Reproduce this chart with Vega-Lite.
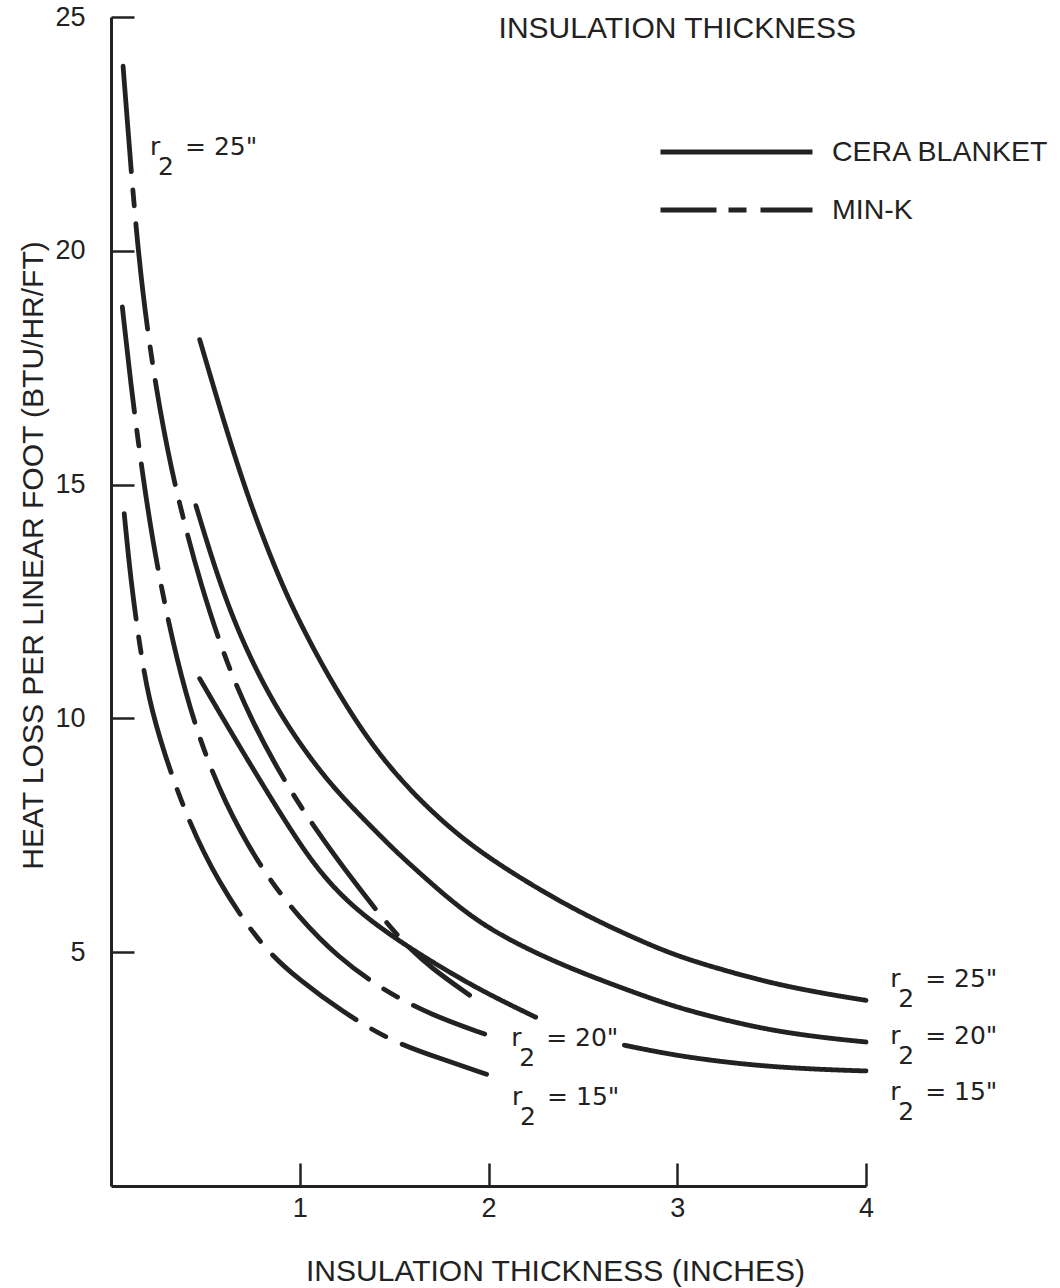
{
  "$schema": "https://vega.github.io/schema/vega-lite/v6.json",
  "width": 755,
  "height": 1169,
  "autosize": "none",
  "padding": {"left": 111, "top": 17, "right": 194, "bottom": 102},
  "background": "white",
  "config": {
    "view": {"stroke": null},
    "font": "Liberation Sans",
    "axis": {"labelFont": "Liberation Sans", "titleFont": "Liberation Sans"},
    "legend": {"labelFont": "Liberation Sans"}
  },
  "datasets": {
    "curves": [
      {"curve": "C25", "material": "CERA BLANKET", "x": 0.47, "y": 18.1},
      {"curve": "C25", "material": "CERA BLANKET", "x": 0.55, "y": 17.0},
      {"curve": "C25", "material": "CERA BLANKET", "x": 0.64, "y": 15.8},
      {"curve": "C25", "material": "CERA BLANKET", "x": 0.75, "y": 14.45},
      {"curve": "C25", "material": "CERA BLANKET", "x": 0.89, "y": 13.0},
      {"curve": "C25", "material": "CERA BLANKET", "x": 1.0, "y": 12.05},
      {"curve": "C25", "material": "CERA BLANKET", "x": 1.15, "y": 10.9},
      {"curve": "C25", "material": "CERA BLANKET", "x": 1.35, "y": 9.6},
      {"curve": "C25", "material": "CERA BLANKET", "x": 1.53, "y": 8.7},
      {"curve": "C25", "material": "CERA BLANKET", "x": 1.7, "y": 8.0},
      {"curve": "C25", "material": "CERA BLANKET", "x": 1.9, "y": 7.3},
      {"curve": "C25", "material": "CERA BLANKET", "x": 2.16, "y": 6.6},
      {"curve": "C25", "material": "CERA BLANKET", "x": 2.48, "y": 5.85},
      {"curve": "C25", "material": "CERA BLANKET", "x": 2.8, "y": 5.25},
      {"curve": "C25", "material": "CERA BLANKET", "x": 3.01, "y": 4.9},
      {"curve": "C25", "material": "CERA BLANKET", "x": 3.3, "y": 4.55},
      {"curve": "C25", "material": "CERA BLANKET", "x": 3.54, "y": 4.3},
      {"curve": "C25", "material": "CERA BLANKET", "x": 3.8, "y": 4.1},
      {"curve": "C25", "material": "CERA BLANKET", "x": 4.0, "y": 3.97},
      {"curve": "C20", "material": "CERA BLANKET", "x": 0.45, "y": 14.55},
      {"curve": "C20", "material": "CERA BLANKET", "x": 0.57, "y": 12.95},
      {"curve": "C20", "material": "CERA BLANKET", "x": 0.7, "y": 11.6},
      {"curve": "C20", "material": "CERA BLANKET", "x": 0.85, "y": 10.4},
      {"curve": "C20", "material": "CERA BLANKET", "x": 1.0, "y": 9.45},
      {"curve": "C20", "material": "CERA BLANKET", "x": 1.17, "y": 8.55},
      {"curve": "C20", "material": "CERA BLANKET", "x": 1.35, "y": 7.8},
      {"curve": "C20", "material": "CERA BLANKET", "x": 1.51, "y": 7.15},
      {"curve": "C20", "material": "CERA BLANKET", "x": 1.62, "y": 6.75},
      {"curve": "C20", "material": "CERA BLANKET", "x": 1.8, "y": 6.1},
      {"curve": "C20", "material": "CERA BLANKET", "x": 2.0, "y": 5.5},
      {"curve": "C20", "material": "CERA BLANKET", "x": 2.25, "y": 4.98},
      {"curve": "C20", "material": "CERA BLANKET", "x": 2.48, "y": 4.58},
      {"curve": "C20", "material": "CERA BLANKET", "x": 2.75, "y": 4.17},
      {"curve": "C20", "material": "CERA BLANKET", "x": 3.01, "y": 3.8},
      {"curve": "C20", "material": "CERA BLANKET", "x": 3.3, "y": 3.5},
      {"curve": "C20", "material": "CERA BLANKET", "x": 3.54, "y": 3.3},
      {"curve": "C20", "material": "CERA BLANKET", "x": 3.8, "y": 3.16},
      {"curve": "C20", "material": "CERA BLANKET", "x": 4.0, "y": 3.08},
      {"curve": "C15a", "material": "CERA BLANKET", "x": 0.47, "y": 10.85},
      {"curve": "C15a", "material": "CERA BLANKET", "x": 0.6, "y": 9.95},
      {"curve": "C15a", "material": "CERA BLANKET", "x": 0.785, "y": 8.7},
      {"curve": "C15a", "material": "CERA BLANKET", "x": 1.0, "y": 7.3},
      {"curve": "C15a", "material": "CERA BLANKET", "x": 1.14, "y": 6.55},
      {"curve": "C15a", "material": "CERA BLANKET", "x": 1.3, "y": 5.9},
      {"curve": "C15a", "material": "CERA BLANKET", "x": 1.53, "y": 5.22},
      {"curve": "C15a", "material": "CERA BLANKET", "x": 1.8, "y": 4.55},
      {"curve": "C15a", "material": "CERA BLANKET", "x": 2.0, "y": 4.1},
      {"curve": "C15a", "material": "CERA BLANKET", "x": 2.25, "y": 3.61},
      {"curve": "C15b", "material": "CERA BLANKET", "x": 2.72, "y": 3.01},
      {"curve": "C15b", "material": "CERA BLANKET", "x": 3.0, "y": 2.78},
      {"curve": "C15b", "material": "CERA BLANKET", "x": 3.37, "y": 2.59},
      {"curve": "C15b", "material": "CERA BLANKET", "x": 3.7, "y": 2.5},
      {"curve": "C15b", "material": "CERA BLANKET", "x": 4.0, "y": 2.46},
      {"curve": "M25", "material": "MIN-K", "x": 0.064, "y": 23.95},
      {"curve": "M25", "material": "MIN-K", "x": 0.11, "y": 21.5},
      {"curve": "M25", "material": "MIN-K", "x": 0.165, "y": 19.1},
      {"curve": "M25", "material": "MIN-K", "x": 0.24, "y": 17.0},
      {"curve": "M25", "material": "MIN-K", "x": 0.32, "y": 15.3},
      {"curve": "M25", "material": "MIN-K", "x": 0.4, "y": 14.0},
      {"curve": "M25", "material": "MIN-K", "x": 0.47, "y": 12.95},
      {"curve": "M25", "material": "MIN-K", "x": 0.6, "y": 11.3},
      {"curve": "M25", "material": "MIN-K", "x": 0.75, "y": 9.9},
      {"curve": "M25", "material": "MIN-K", "x": 0.92, "y": 8.65},
      {"curve": "M25", "material": "MIN-K", "x": 1.07, "y": 7.71},
      {"curve": "M25", "material": "MIN-K", "x": 1.28, "y": 6.54},
      {"curve": "M25", "material": "MIN-K", "x": 1.53, "y": 5.26},
      {"curve": "M25", "material": "MIN-K", "x": 1.7, "y": 4.65},
      {"curve": "M25", "material": "MIN-K", "x": 1.9, "y": 4.08},
      {"curve": "M20", "material": "MIN-K", "x": 0.06, "y": 18.8},
      {"curve": "M20", "material": "MIN-K", "x": 0.1, "y": 17.3},
      {"curve": "M20", "material": "MIN-K", "x": 0.17, "y": 15.1},
      {"curve": "M20", "material": "MIN-K", "x": 0.245, "y": 13.2},
      {"curve": "M20", "material": "MIN-K", "x": 0.35, "y": 11.2},
      {"curve": "M20", "material": "MIN-K", "x": 0.46, "y": 9.64},
      {"curve": "M20", "material": "MIN-K", "x": 0.6, "y": 8.2},
      {"curve": "M20", "material": "MIN-K", "x": 0.8, "y": 6.75},
      {"curve": "M20", "material": "MIN-K", "x": 1.0, "y": 5.72},
      {"curve": "M20", "material": "MIN-K", "x": 1.2, "y": 4.9},
      {"curve": "M20", "material": "MIN-K", "x": 1.44, "y": 4.19},
      {"curve": "M20", "material": "MIN-K", "x": 1.7, "y": 3.65},
      {"curve": "M20", "material": "MIN-K", "x": 1.98, "y": 3.25},
      {"curve": "M15", "material": "MIN-K", "x": 0.07, "y": 14.38},
      {"curve": "M15", "material": "MIN-K", "x": 0.105, "y": 12.95},
      {"curve": "M15", "material": "MIN-K", "x": 0.15, "y": 11.6},
      {"curve": "M15", "material": "MIN-K", "x": 0.2, "y": 10.4},
      {"curve": "M15", "material": "MIN-K", "x": 0.28, "y": 9.27},
      {"curve": "M15", "material": "MIN-K", "x": 0.4, "y": 7.9},
      {"curve": "M15", "material": "MIN-K", "x": 0.56, "y": 6.54},
      {"curve": "M15", "material": "MIN-K", "x": 0.8, "y": 5.1},
      {"curve": "M15", "material": "MIN-K", "x": 1.0, "y": 4.4},
      {"curve": "M15", "material": "MIN-K", "x": 1.22, "y": 3.74},
      {"curve": "M15", "material": "MIN-K", "x": 1.49, "y": 3.08},
      {"curve": "M15", "material": "MIN-K", "x": 1.75, "y": 2.72},
      {"curve": "M15", "material": "MIN-K", "x": 1.99, "y": 2.39}
    ],
    "labels": [
      {"x": 0.207, "y": 22.05, "val": "= 25\""},
      {"x": 4.128, "y": 4.26, "val": "= 25\""},
      {"x": 4.128, "y": 3.04, "val": "= 20\""},
      {"x": 4.128, "y": 1.84, "val": "= 15\""},
      {"x": 2.12, "y": 2.99, "val": "= 20\""},
      {"x": 2.125, "y": 1.73, "val": "= 15\""}
    ],
    "heading": [
      {"x": 3.0, "y": 24.74, "t": "INSULATION THICKNESS"}
    ]
  },
  "resolve": {"scale": {"strokeDash": "independent"}},
  "layer": [
    {
      "data": {"name": "curves"},
      "mark": {"type": "line", "interpolate": "basis", "strokeWidth": 4.8, "color": "#222222", "strokeCap": "round"},
      "encoding": {
        "x": {
          "field": "x", "type": "quantitative",
          "scale": {"domain": [0, 4], "nice": false, "zero": false},
          "axis": {
            "title": "INSULATION THICKNESS (INCHES)",
            "values": [1, 2, 3, 4], "format": "d", "grid": false,
            "tickSize": -23, "tickWidth": 2.5, "tickColor": "#222222",
            "domainColor": "#222222", "domainWidth": 3,
            "labelFontSize": 27, "labelColor": "#222222", "labelPadding": 32,
            "labelFlush": false, "labelOverlap": false,
            "titleFontSize": 30, "titleFontWeight": "normal", "titleColor": "#222222",
            "titleX": 444, "titleY": 94, "titleBaseline": "alphabetic"
          }
        },
        "y": {
          "field": "y", "type": "quantitative",
          "scale": {"domain": [0, 25], "nice": false},
          "axis": {
            "title": "HEAT LOSS PER LINEAR FOOT (BTU/HR/FT)",
            "values": [5, 10, 15, 20, 25], "format": "d", "grid": false,
            "tickSize": -23, "tickWidth": 2.5, "tickColor": "#222222",
            "domainColor": "#222222", "domainWidth": 3,
            "labelFontSize": 27, "labelColor": "#222222", "labelPadding": 49,
            "labelOverlap": false,
            "titleFontSize": 30, "titleFontWeight": "normal", "titleColor": "#222222",
            "titleX": -69, "titleY": 538, "titleBaseline": "alphabetic", "titleAngle": 270
          }
        },
        "strokeDash": {
          "field": "material", "type": "nominal",
          "scale": {"domain": ["CERA BLANKET", "MIN-K"], "range": [[1, 0], [106, 18, 16, 18]]},
          "legend": null
        },
        "detail": {"field": "curve", "type": "nominal"}
      }
    },
    {
      "data": {"name": "curves"},
      "transform": [{"filter": "datum.x < 0"}],
      "mark": {"type": "line", "strokeWidth": 4.8, "color": "#222222"},
      "encoding": {
        "x": {"field": "x", "type": "quantitative"},
        "y": {"field": "y", "type": "quantitative"},
        "strokeDash": {
          "field": "material", "type": "nominal",
          "scale": {"domain": ["CERA BLANKET", "MIN-K"], "range": [[1, 0], [56, 12, 18, 14]]},
          "legend": {
            "title": null, "orient": "none", "legendX": 547, "legendY": 107,
            "symbolType": "stroke", "symbolSize": 23104, "symbolStrokeWidth": 4.8,
            "symbolStrokeColor": "#222222",
            "labelFontSize": 28.5, "labelColor": "#222222", "labelOffset": 17, "labelLimit": 0,
            "clipHeight": 56, "rowPadding": 2, "padding": 0
          }
        }
      }
    },
    {
      "data": {"name": "labels"},
      "mark": {"type": "text", "text": "r", "align": "left", "baseline": "alphabetic", "font": "DejaVu Sans", "fontSize": 25, "color": "#222222"},
      "encoding": {
        "x": {"field": "x", "type": "quantitative"},
        "y": {"field": "y", "type": "quantitative"}
      }
    },
    {
      "data": {"name": "labels"},
      "mark": {"type": "text", "text": "2", "align": "left", "baseline": "alphabetic", "font": "DejaVu Sans", "fontSize": 25, "color": "#222222", "dx": 8, "dy": 20},
      "encoding": {
        "x": {"field": "x", "type": "quantitative"},
        "y": {"field": "y", "type": "quantitative"}
      }
    },
    {
      "data": {"name": "labels"},
      "mark": {"type": "text", "align": "left", "baseline": "alphabetic", "font": "DejaVu Sans", "fontSize": 25, "color": "#222222", "dx": 35},
      "encoding": {
        "x": {"field": "x", "type": "quantitative"},
        "y": {"field": "y", "type": "quantitative"},
        "text": {"field": "val"}
      }
    },
    {
      "data": {"name": "heading"},
      "mark": {"type": "text", "align": "center", "baseline": "middle", "fontSize": 30, "color": "#222222"},
      "encoding": {
        "x": {"field": "x", "type": "quantitative"},
        "y": {"field": "y", "type": "quantitative"},
        "text": {"field": "t"}
      }
    }
  ]
}
